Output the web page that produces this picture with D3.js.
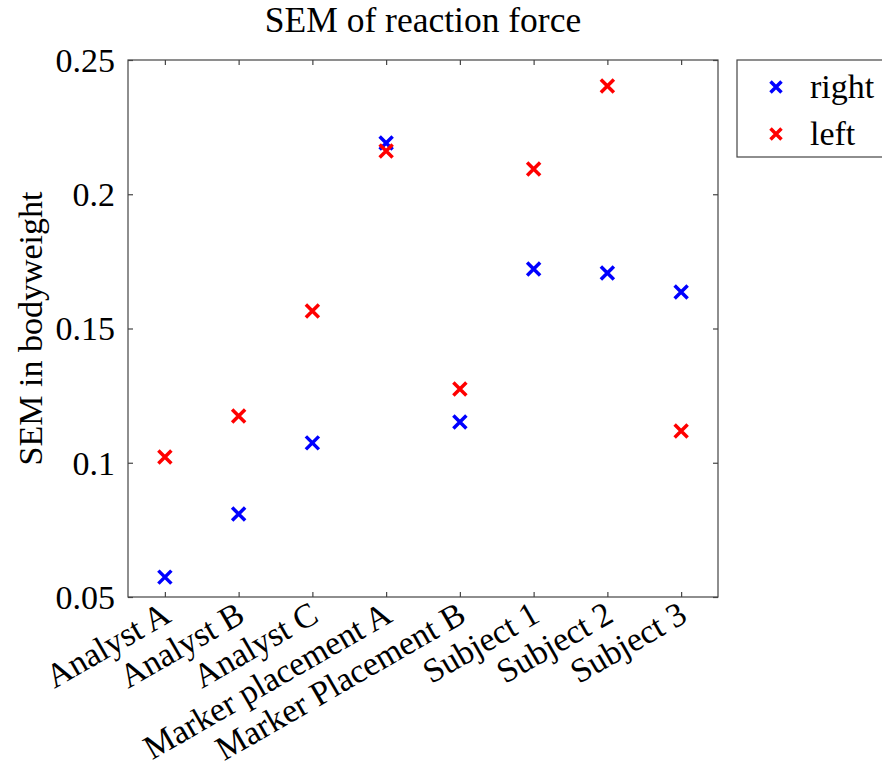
<!DOCTYPE html>
<html>
<head>
<meta charset="utf-8">
<script src="https://cdn.jsdelivr.net/npm/d3@7"></script>
<style>
  body { margin: 0; background: #fff; }
  svg text { font-family: "Liberation Serif", "Times New Roman", serif; fill: #000; }
</style>
</head>
<body>
<svg id="chart" width="882" height="769"></svg>
<script>
const categories = ["Analyst A", "Analyst B", "Analyst C", "Marker placement A",
    "Marker Placement B", "Subject 1", "Subject 2", "Subject 3"];
const rightValues = [0.0574, 0.0809, 0.1074, 0.2191, 0.1152, 0.1722, 0.1707, 0.1636];
const leftValues = [0.1021, 0.1174, 0.1565, 0.2161, 0.1275, 0.2094, 0.2403, 0.1118];
const yTicks = [0.05, 0.1, 0.15, 0.2, 0.25];
const series = [
    { name: "right", color: "#0000ff", values: rightValues },
    { name: "left", color: "#ff0000", values: leftValues }
];

const svg = d3.select("#chart");
const plot = { left: 128, right: 718, top: 60, bottom: 597 };
const fontSize = 34;

const x = d3.scaleLinear().domain([0.5, categories.length + 0.5]).range([plot.left, plot.right]);
const y = d3.scaleLinear().domain([0.05, 0.25]).range([plot.bottom, plot.top]);

// x mark drawn as two crossing lines
function cross(g, cx, cy, r, color) {
    g.append("path")
        .attr("d", `M${cx - r},${cy - r}L${cx + r},${cy + r}M${cx - r},${cy + r}L${cx + r},${cy - r}`)
        .attr("stroke", color)
        .attr("stroke-width", 3.5)
        .attr("fill", "none");
}

// Frame
svg.append("rect")
    .attr("x", plot.left).attr("y", plot.top)
    .attr("width", plot.right - plot.left).attr("height", plot.bottom - plot.top)
    .attr("fill", "none").attr("stroke", "#444").attr("stroke-width", 1.2);

// Axes with inward ticks (bottom/top, left/right)
const idx = d3.range(1, categories.length + 1);
const axisStyle = g => {
    g.select(".domain").remove();
    g.selectAll(".tick line").attr("stroke", "#444").attr("stroke-width", 1.2);
    g.selectAll(".tick text").remove();
};
svg.append("g").attr("transform", `translate(0,${plot.bottom})`)
    .call(d3.axisTop(x).tickValues(idx).tickSize(5)).call(axisStyle);
svg.append("g").attr("transform", `translate(0,${plot.top})`)
    .call(d3.axisBottom(x).tickValues(idx).tickSize(5)).call(axisStyle);
svg.append("g").attr("transform", `translate(${plot.left},0)`)
    .call(d3.axisRight(y).tickValues(yTicks).tickSize(5)).call(axisStyle);
svg.append("g").attr("transform", `translate(${plot.right},0)`)
    .call(d3.axisLeft(y).tickValues(yTicks).tickSize(5)).call(axisStyle);

// Y tick labels
svg.append("g").selectAll("text")
    .data(yTicks)
    .enter().append("text")
    .attr("x", plot.left - 13)
    .attr("y", d => y(d))
    .attr("dy", "0.35em")
    .attr("text-anchor", "end")
    .style("font-size", fontSize + "px")
    .text(d => d3.format("~g")(d));

// X tick labels, rotated
svg.append("g").selectAll("text")
    .data(categories)
    .enter().append("text")
    .attr("transform", (d, i) => `translate(${x(i + 1) - 4},${plot.bottom + 3}) rotate(-30)`)
    .attr("dy", "0.7em")
    .attr("text-anchor", "end")
    .style("font-size", fontSize + "px")
    .text(d => d);

// Title
svg.append("text")
    .attr("x", (plot.left + plot.right) / 2)
    .attr("y", 32)
    .attr("text-anchor", "middle")
    .style("font-size", "35.5px")
    .text("SEM of reaction force");

// Y axis label
svg.append("text")
    .attr("transform", `translate(42,${(plot.top + plot.bottom) / 2}) rotate(-90)`)
    .attr("text-anchor", "middle")
    .style("font-size", fontSize + "px")
    .text("SEM in bodyweight");

// Points
series.forEach(s => {
    const g = svg.append("g");
    s.values.forEach((v, i) => cross(g, x(i + 1), y(v), 6.5, s.color));
});

// Legend
const legend = svg.append("g");
legend.append("rect")
    .attr("x", 737).attr("y", 60).attr("width", 160).attr("height", 97)
    .attr("fill", "#fff").attr("stroke", "#444").attr("stroke-width", 1.2);
series.forEach((s, i) => {
    const ly = 87 + i * 47;
    cross(legend, 776, ly, 5.5, s.color);
    legend.append("text")
        .attr("x", 810).attr("y", ly)
        .attr("dy", "0.32em")
        .style("font-size", fontSize + "px")
        .text(s.name);
});
</script>
</body>
</html>
